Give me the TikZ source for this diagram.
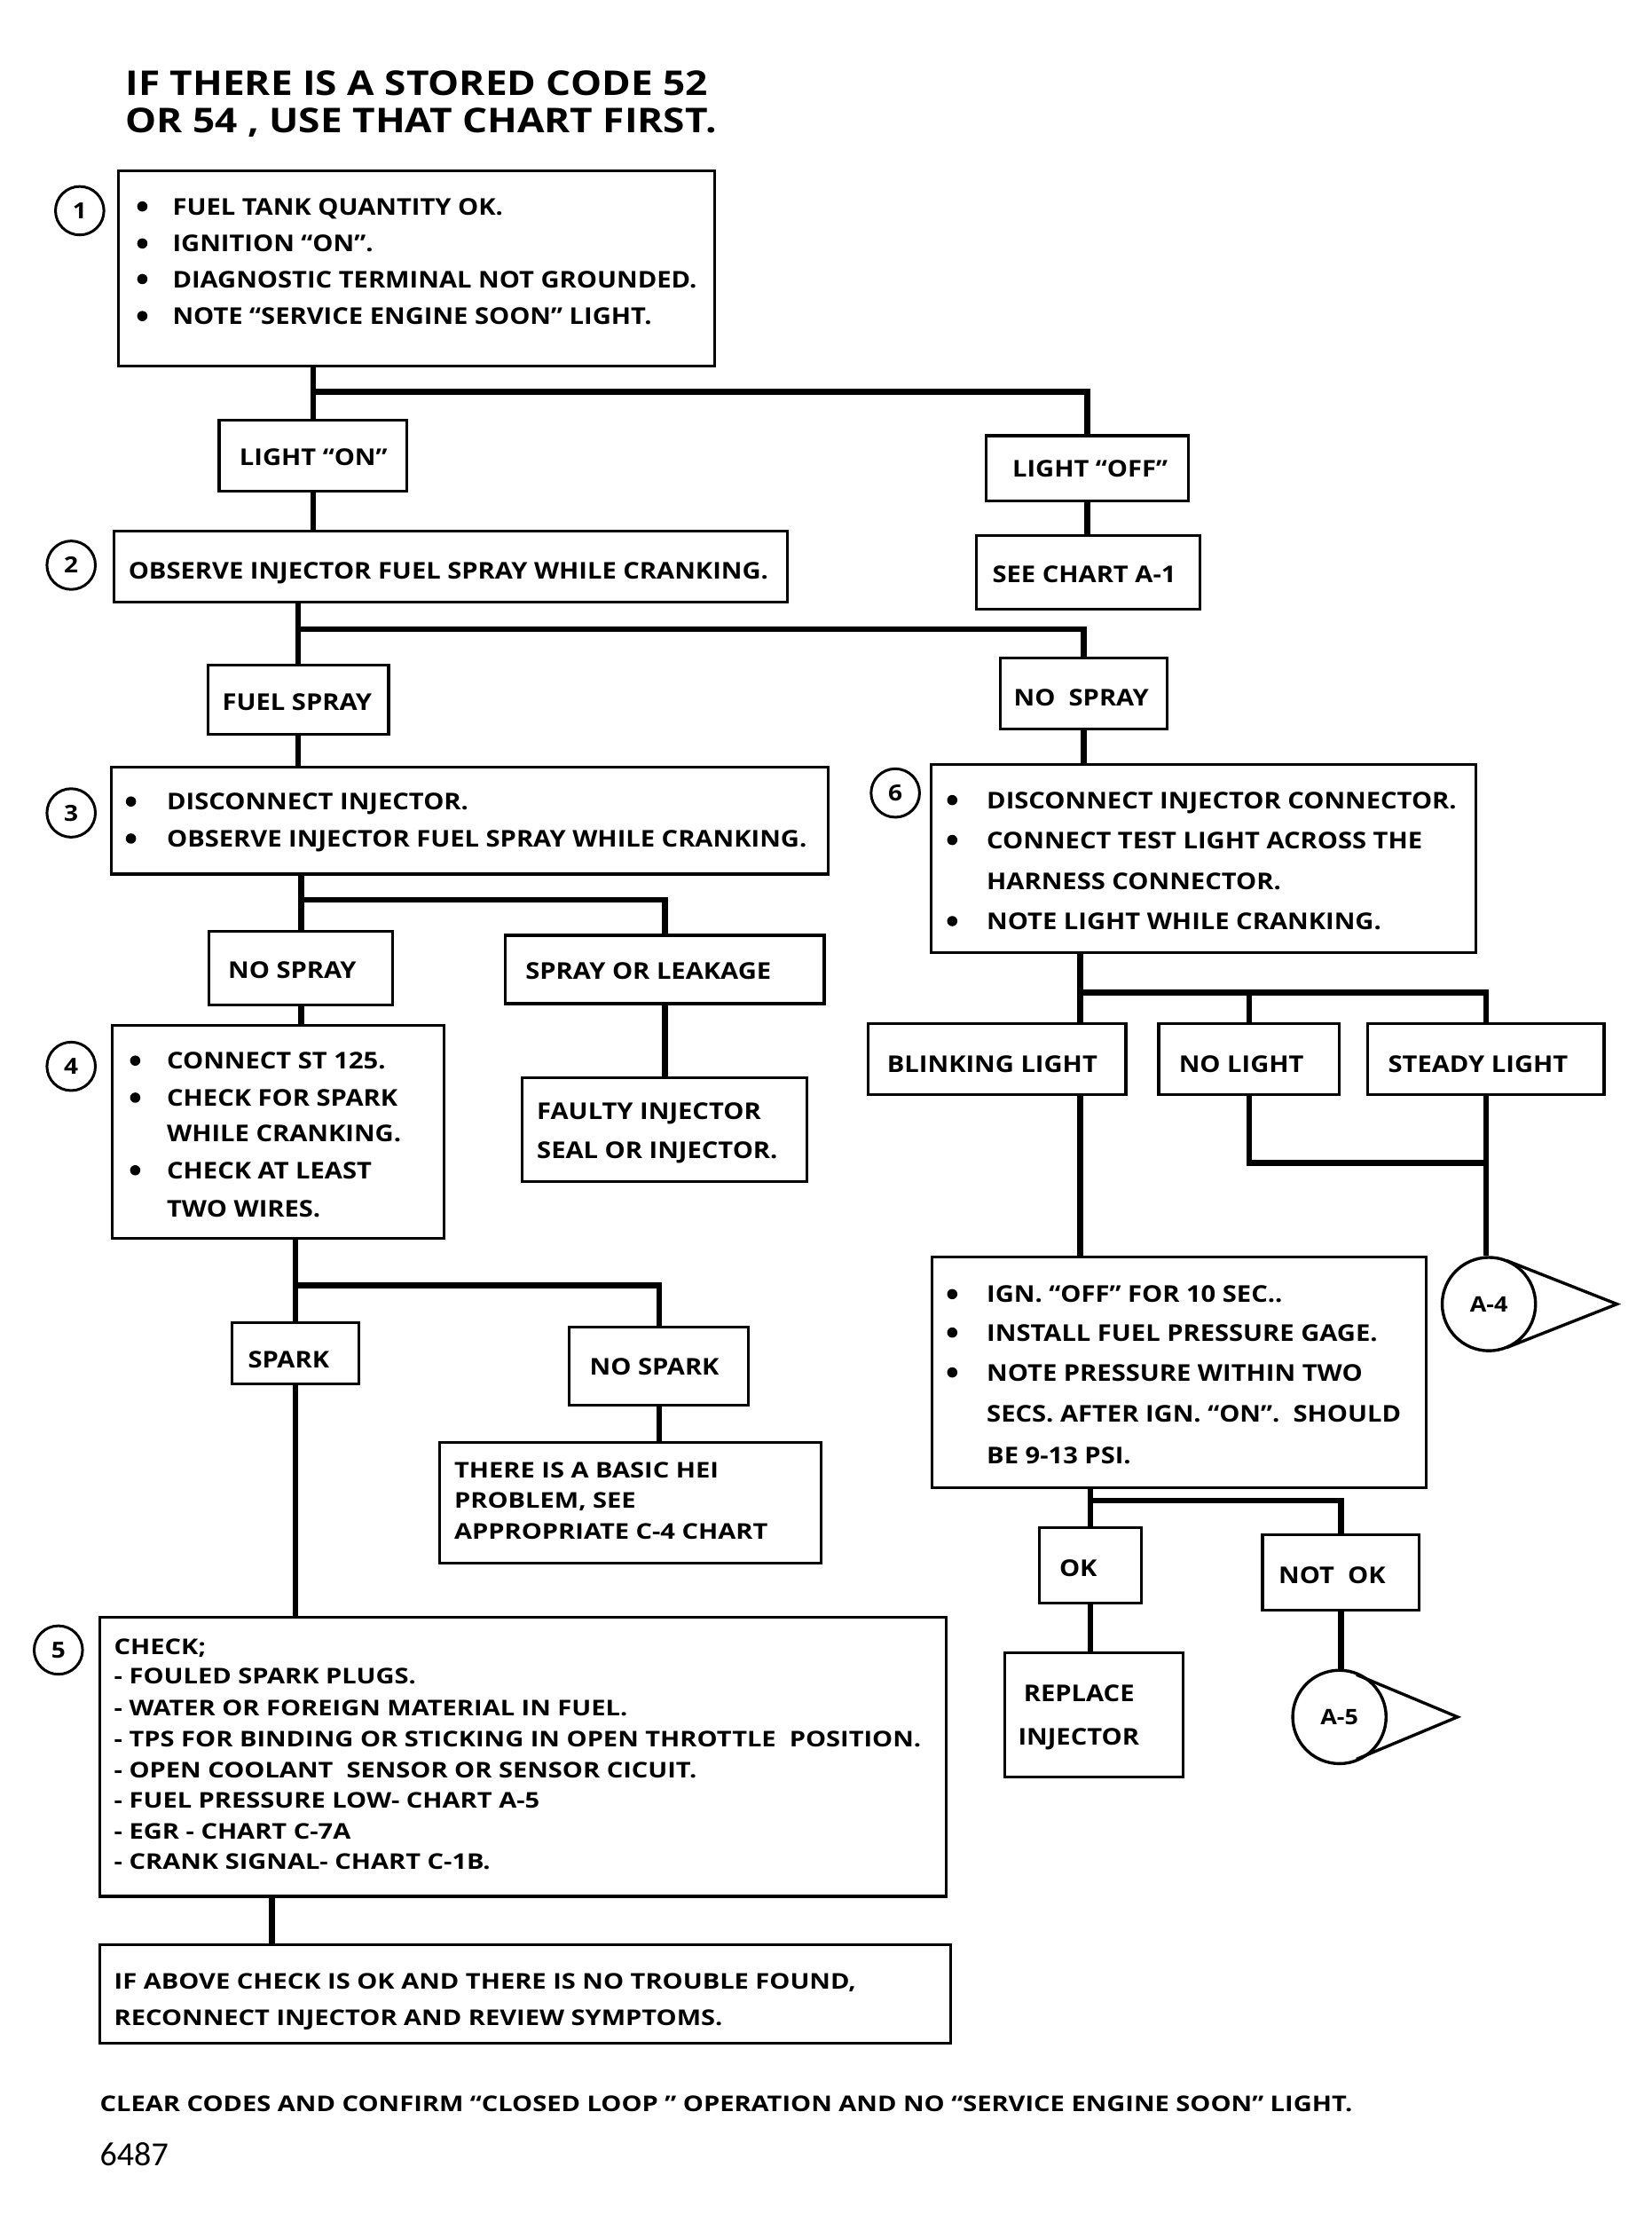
\documentclass[tikz,border=0pt]{standalone}
\usepackage{fontspec}
\setmainfont{Open Sans}
\newfontfamily\chartfont{Open Sans}[FakeStretch=1.12]
\newfontfamily\smallfont{Open Sans}[FakeStretch=1.19]
\newfontfamily\titlefont{Open Sans}[FakeStretch=1.15]
\newfontfamily\numfont{Carlito}
\usetikzlibrary{fit,calc}
\newcount\tcnt
\newcommand\tl[4][txt]{\global\advance\tcnt by 1\relax\node[#1] (t\the\tcnt) at (#2,#3) {#4};}
\newcommand\bu[2]{\fill (#1,#2) circle (3.6);}
\begin{document}
\begin{tikzpicture}[x=0.802pt,y=-0.802pt,
  box/.style={draw, line width=1.6pt, inner sep=0pt},
  conn/.style={line width=3.3pt},
  txt/.style={anchor=base west, inner sep=0pt, font=\chartfont\bfseries\fontsize{13}{15}\selectfont},
  txts/.style={anchor=base west, inner sep=0pt, font=\smallfont\bfseries\fontsize{12.2}{14}\selectfont},
  ttl/.style={anchor=base west, inner sep=0pt, font=\titlefont\bfseries\fontsize{19.2}{22}\selectfont},
  num/.style={circle, draw, line width=1.5pt, minimum size=27.3pt, inner sep=0pt, font=\chartfont\bfseries\fontsize{12.5}{14}\selectfont},
  ref/.style={circle, draw, line width=1.7pt, minimum size=52.6pt, inner sep=0pt, font=\chartfont\bfseries\fontsize{12}{14}\selectfont}
]
\fill[white] (0,0) rectangle (1160,1572);
\useasboundingbox (0,0) rectangle (1160,1572);

% title
\tl[ttl]{88}{67}{IF THERE IS A STORED CODE 52}
\tl[ttl]{88}{93}{OR 54 , USE THAT CHART FIRST.}

% boxes
\node[box, fit={(83,120) (502,257)}] (b1) {};
\node[box, fit={(154,295) (286,345)}] (lon) {};
\node[box, fit={(693,306) (835,352)}] (loff) {};
\node[box, fit={(80,373) (553,423)}] (b2) {};
\node[box, fit={(686,376) (843,428)}] (a1) {};
\node[box, fit={(146,467) (273,516)}] (fs) {};
\node[box, fit={(703,462) (820,512)}] (ns1) {};
\node[box, fit={(78,539) (582,614)}] (b3) {};
\node[box, fit={(654,537) (1037,669)}] (b6) {};
\node[box, fit={(147,654) (276,706)}] (ns2) {};
\node[box, fit={(355,657) (579,705)}] (sol) {};
\node[box, fit={(79,720) (312,870)}] (b4) {};
\node[box, fit={(367,757) (567,830)}] (fi) {};
\node[box, fit={(610,719) (791,769)}] (bl) {};
\node[box, fit={(814,719) (941,769)}] (nl) {};
\node[box, fit={(961,719) (1127,769)}] (sl) {};
\node[box, fit={(655,883) (1002,1045)}] (b7) {};
\node[box, fit={(730,1073) (802,1126)}] (ok) {};
\node[box, fit={(887,1078) (997,1131)}] (nok) {};
\node[box, fit={(706,1161) (831,1248)}] (ri) {};
\node[box, fit={(163,929) (252,972)}] (sp) {};
\node[box, fit={(400,932) (526,987)}] (nsp) {};
\node[box, fit={(309,1013) (577,1098)}] (hei) {};
\node[box, fit={(70,1136) (665,1332)}] (b5) {};
\node[box, fit={(70,1366) (668,1435)}] (b8) {};

% step numbers
\node[num] (c1) at (56,148) {1};
\node[num] (c2) at (50,397) {2};
\node[num] (c3) at (50,571) {3};
\node[num] (c4) at (50,749) {4};
\node[num] (c5) at (41,1159) {5};
\node[num] (c6) at (629,557) {6};

% chart references
\node[ref] (a4) at (1046,916) {A-4};
\node[ref] (a5) at (941,1206) {A-5};
\coordinate (tip4) at (1136,916);
\coordinate (tip5) at (1024,1206);
\draw[line width=1.7pt, line join=miter] ($(a4.center)+(68:33)$) -- (tip4) -- ($(a4.center)+(-68:33)$);
\draw[line width=1.7pt, line join=miter] ($(a5.center)+(68:32)$) -- (tip5) -- ($(a5.center)+(-68:32)$);

% connector helper coordinates
\coordinate (h1) at (0,275);
\coordinate (h2) at (0,442);
\coordinate (h3) at (0,632);
\coordinate (h4) at (0,697);
\coordinate (h5) at (0,817);
\coordinate (h6) at (0,903);
\coordinate (h7) at (0,1054);
\coordinate (xb) at (759,0);
\coordinate (x5) at (191,0);

% connectors
\draw[conn] (b1.south -| lon.north) -- (lon.north);
\draw[conn] (lon.north |- h1) -| (loff.north);
\draw[conn] (loff.south) -- (loff.south |- a1.north);
\draw[conn] (lon.south) -- (lon.south |- b2.north);
\draw[conn] (b2.south -| fs.north) -- (fs.north);
\draw[conn] (fs.north |- h2) -| (ns1.north);
\draw[conn] (fs.south) -- (fs.south |- b3.north);
\draw[conn] (ns1.south) -- (ns1.south |- b6.north);
\draw[conn] (b3.south -| ns2.north) -- (ns2.north);
\draw[conn] (ns2.north |- h3) -| (sol.north);
\draw[conn] (ns2.south) -- (ns2.south |- b4.north);
\draw[conn] (sol.south) -- (sol.south |- fi.north);
\draw[conn] (b6.south -| xb) -- (bl.north -| xb);
\draw[conn] (h4 -| xb) -| (sl.north);
\draw[conn] (h4 -| nl.north) -- (nl.north);
\draw[conn] (nl.south) |- (h5 -| sl.south);
\draw[conn] (sl.south) -- (sl.south |- a4.north);
\draw[conn] (bl.south -| xb) -- (b7.north -| xb);
\draw[conn] (b7.south -| ok.north) -- (ok.north);
\draw[conn] (ok.north |- h7) -| (nok.north);
\draw[conn] (ok.south) -- (ok.south |- ri.north);
\draw[conn] (nok.south) -- (nok.south |- a5.north);
\draw[conn] (b4.south -| sp.north) -- (sp.north);
\draw[conn] (sp.north |- h6) -| (nsp.north);
\draw[conn] (nsp.south) -- (nsp.south |- hei.north);
\draw[conn] (sp.south) -- (sp.south |- b5.north);
\draw[conn] (b5.south -| x5) -- (b8.north -| x5);

% box 1
\bu{100}{145}\bu{100}{171}\bu{100}{196}\bu{100}{222}
\tl{121}{151}{FUEL TANK QUANTITY OK.}
\tl{121}{177}{IGNITION “ON”.}
\tl{121}{202}{DIAGNOSTIC TERMINAL NOT GROUNDED.}
\tl{121}{228}{NOTE “SERVICE ENGINE SOON” LIGHT.}
\tl{168}{327}{LIGHT “ON”}
\tl{711}{335}{LIGHT “OFF”}
\tl{90}{407}{OBSERVE INJECTOR FUEL SPRAY WHILE CRANKING.}
\tl{697}{409}{SEE CHART A-1}
\tl{156}{499}{FUEL SPRAY}
\tl{712}{496}{NO\ \ SPRAY}
% box 3
\bu{92}{563}\bu{92}{589}
\tl{117}{569}{DISCONNECT INJECTOR.}
\tl{117}{595}{OBSERVE INJECTOR FUEL SPRAY WHILE CRANKING.}
% box 6
\bu{669}{562}\bu{669}{590}\bu{669}{647}
\tl{693}{568}{DISCONNECT INJECTOR CONNECTOR.}
\tl{693}{596}{CONNECT TEST LIGHT ACROSS THE}
\tl{693}{625}{HARNESS CONNECTOR.}
\tl{693}{653}{NOTE LIGHT WHILE CRANKING.}
\tl{160}{687}{NO SPRAY}
\tl{369}{688}{SPRAY OR LEAKAGE}
% box 4
\bu{95}{745}\bu{95}{771}\bu{95}{822}
\tl{117}{751}{CONNECT ST 125.}
\tl{117}{777}{CHECK FOR SPARK}
\tl{117}{802}{WHILE CRANKING.}
\tl{117}{828}{CHECK AT LEAST}
\tl{117}{855}{TWO WIRES.}
\tl{377}{786}{FAULTY INJECTOR}
\tl{377}{814}{SEAL OR INJECTOR.}
\tl{623}{753}{BLINKING LIGHT}
\tl{828}{753}{NO LIGHT}
\tl{975}{753}{STEADY LIGHT}
% box 7
\bu{669}{909}\bu{669}{936}\bu{669}{964}
\tl{693}{915}{IGN. “OFF” FOR 10 SEC..}
\tl{693}{942}{INSTALL FUEL PRESSURE GAGE.}
\tl{693}{970}{NOTE PRESSURE WITHIN TWO}
\tl{693}{999}{SECS. AFTER IGN. “ON”.\ \ SHOULD}
\tl{693}{1028}{BE 9-13 PSI.}
\tl{744}{1107}{OK}
\tl{898}{1112}{NOT\ \ OK}
\tl{719}{1195}{REPLACE}
\tl{715}{1226}{INJECTOR}
\tl{174}{961}{SPARK}
\tl{414}{966}{NO SPARK}
\tl[txts]{319}{1038}{THERE IS A BASIC HEI}
\tl[txts]{319}{1059}{PROBLEM, SEE}
\tl[txts]{319}{1081}{APPROPRIATE C-4 CHART}
% box 5
\tl[txts]{80}{1162}{CHECK;}
\tl[txts]{80}{1183}{- FOULED SPARK PLUGS.}
\tl[txts]{80}{1205}{- WATER OR FOREIGN MATERIAL IN FUEL.}
\tl[txts]{80}{1227}{- TPS FOR BINDING OR STICKING IN OPEN THROTTLE\ \ POSITION.}
\tl[txts]{80}{1249}{- OPEN COOLANT\ \ SENSOR OR SENSOR CICUIT.}
\tl[txts]{80}{1270}{- FUEL PRESSURE LOW- CHART A-5}
\tl[txts]{80}{1292}{- EGR - CHART C-7A}
\tl[txts]{80}{1313}{- CRANK SIGNAL- CHART C-1B.}
% box 8
\tl[txts]{80}{1397}{IF ABOVE CHECK IS OK AND THERE IS NO TROUBLE FOUND,}
\tl[txts]{80}{1423}{RECONNECT INJECTOR AND REVIEW SYMPTOMS.}
% footer
\tl[txts]{70}{1483}{CLEAR CODES AND CONFIRM “CLOSED LOOP ” OPERATION AND NO “SERVICE ENGINE SOON” LIGHT.}
\node[anchor=base west, inner sep=0pt, font=\numfont\fontsize{19}{22}\selectfont] (code) at (70,1521) {6487};
\end{tikzpicture}
\end{document}
